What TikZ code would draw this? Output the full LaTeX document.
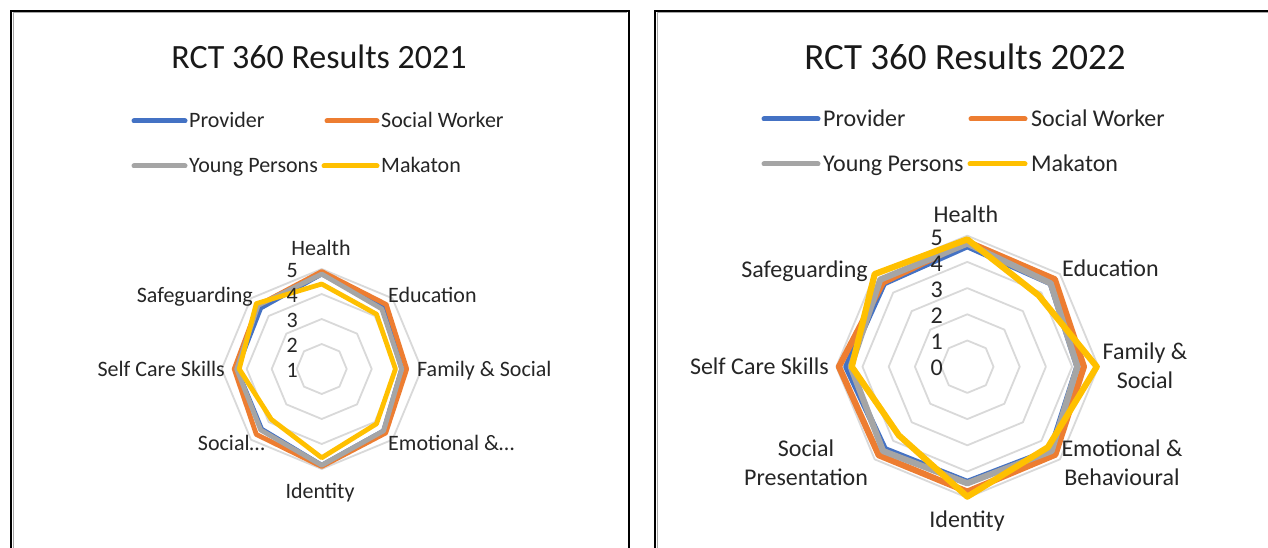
\documentclass[tikz,border=0pt]{standalone}
\usepackage{fontspec}
\setmainfont{Carlito}
\definecolor{cprov}{HTML}{4472C4}
\definecolor{csw}{HTML}{ED7D31}
\definecolor{cyp}{HTML}{A5A5A5}
\definecolor{cmak}{HTML}{FFC000}
\definecolor{cgrid}{HTML}{D9D9D9}
\newcommand\radarpoly[9]{\draw[#1] (90:#2) -- (45:#3) -- (0:#4) -- (-45:#5) -- (-90:#6) -- (-135:#7) -- (180:#8) -- (135:#9) -- cycle;}
\begin{document}
\begin{tikzpicture}[x=1pt,y=-1pt,
  frame/.style={line width=2.4pt,black},
  gridl/.style={cgrid,line width=1.8pt,line join=round},
  serL/.style={line width=4.8pt,line join=round},
  serR/.style={line width=6.2pt,line join=round},
  legline/.style={line width=5pt,line cap=round},
  titleL/.style={font=\fontsize{34}{40}\selectfont,text height=27.9pt,text depth=6.1pt,inner sep=0pt,text=black!90},
  titleR/.style={font=\fontsize{37}{44}\selectfont,text height=30.3pt,text depth=6.7pt,inner sep=0pt,text=black!90},
  labL/.style={font=\fontsize{22}{26}\selectfont,text height=18pt,text depth=4pt,inner sep=0pt,text=black!85},
  labR/.style={font=\fontsize{24}{28.5}\selectfont,inner sep=0pt,text=black!85},
  labRs/.style={labR,text height=19.7pt,text depth=4.3pt}
]
\useasboundingbox (0,0) rectangle (1268,548);
\fill[white] (0,0) rectangle (1268,548);
% frames
\draw[frame] (11,548) -- (11,11) -- (629,11) -- (629,548);
\draw[gray!70,line width=0.8pt] (12.9,548) -- (12.9,12.9) -- (627.1,12.9);
\draw[frame] (655,548) -- (655,11) -- (1268,11);
\draw[gray!70,line width=0.8pt] (656.9,548) -- (656.9,12.9) -- (1268,12.9);

% ===== Left chart =====
\node[titleL] (tL) at (319,57.5) {RCT 360 Results 2021};
\draw[legline,cprov] (134,121) -- (185,121);
\node[labL,anchor=west] (lgL1) at (189,120.5) {Provider};
\draw[legline,csw] (327,121) -- (377,121);
\node[labL,anchor=west] (lgL2) at (381,120.5) {Social Worker};
\draw[legline,cyp] (134,166) -- (185,166);
\node[labL,anchor=west] (lgL3) at (189,165.5) {Young Persons};
\draw[legline,cmak] (324,166) -- (377,166);
\node[labL,anchor=west] (lgL4) at (381,165.5) {Makaton};

\begin{scope}[shift={(321.7,369)},x=25pt,y=25pt]
  \foreach \r in {1,2,3,4}{\radarpoly{gridl}{\r}{\r}{\r}{\r}{\r}{\r}{\r}{\r}}
  \radarpoly{serL,cprov}{3.8}{3.5}{3.2}{3.5}{3.85}{3.4}{3.4}{3.45}
  \radarpoly{serL,csw}{3.9}{3.65}{3.4}{3.62}{3.9}{3.7}{3.5}{3.6}
  \radarpoly{serL,cyp}{3.8}{3.4}{3.2}{3.5}{3.85}{3.45}{3.4}{3.6}
  \radarpoly{serL,cmak}{3.4}{3.1}{2.95}{3.1}{3.55}{2.85}{3.3}{3.7}
\end{scope}
\node[labL] (aL1) at (321,248) {Health};
\node[labL,anchor=west] (aL2) at (388,295) {Education};
\node[labL,anchor=west] (aL3) at (417,369) {Family \& Social};
\node[labL,anchor=west] (aL4) at (388,443) {Emotional \&…};
\node[labL] (aL5) at (320,491) {Identity};
\node[labL,anchor=east] (aL6) at (265,443) {Social…};
\node[labL,anchor=east] (aL7) at (225,369) {Self Care Skills};
\node[labL,anchor=east] (aL8) at (253,295) {Safeguarding};
\node[labL,anchor=east] (nL5) at (298,270) {5};
\node[labL,anchor=east] (nL4) at (298,295) {4};
\node[labL,anchor=east] (nL3) at (298,320) {3};
\node[labL,anchor=east] (nL2) at (298,345) {2};
\node[labL,anchor=east] (nL1) at (298,370) {1};

% ===== Right chart =====
\node[titleR] (tR) at (965,57.5) {RCT 360 Results 2022};
\draw[legline,cprov] (764,119) -- (818,119);
\node[labRs,anchor=west] (lgR1) at (823,119) {Provider};
\draw[legline,csw] (971,119) -- (1025,119);
\node[labRs,anchor=west] (lgR2) at (1031,119) {Social Worker};
\draw[legline,cyp] (764,164) -- (818,164);
\node[labRs,anchor=west] (lgR3) at (823,164) {Young Persons};
\draw[legline,cmak] (970,164) -- (1025,164);
\node[labRs,anchor=west] (lgR4) at (1031,164) {Makaton};

\begin{scope}[shift={(967.3,366.7)},x=26.2pt,y=26.2pt]
  \foreach \r in {1,2,3,4,5}{\radarpoly{gridl}{\r}{\r}{\r}{\r}{\r}{\r}{\r}{\r}}
  \radarpoly{serR,cprov}{4.6}{4.5}{4.2}{4.5}{4.4}{4.45}{4.62}{4.5}
  \radarpoly{serR,csw}{4.77}{4.72}{4.45}{4.75}{4.77}{4.78}{4.9}{4.55}
  \radarpoly{serR,cyp}{4.7}{4.5}{4.2}{4.55}{4.45}{4.55}{4.45}{4.7}
  \radarpoly{serR,cmak}{4.86}{3.85}{4.94}{4.35}{4.96}{3.7}{4.41}{5.0}
\end{scope}
\node[labRs] (aR1) at (966,215) {Health};
\node[labRs,anchor=west] (aR2) at (1062,269) {Education};
\node[labR,align=center] (aR3) at (1145,366) {Family \&\\Social};
\node[labR,align=center] (aR4) at (1122,463) {Emotional \&\\Behavioural};
\node[labRs] (aR5) at (967,520) {Identity};
\node[labR,align=center] (aR6) at (806,463) {Social\\Presentation};
\node[labRs,anchor=east] (aR7) at (829,367) {Self Care Skills};
\node[labRs,anchor=east] (aR8) at (868,270) {Safeguarding};
\node[labRs,anchor=east] (nR5) at (943,237.5) {5};
\node[labRs,anchor=east] (nR4) at (943,263.5) {4};
\node[labRs,anchor=east] (nR3) at (943,289.5) {3};
\node[labRs,anchor=east] (nR2) at (943,315.5) {2};
\node[labRs,anchor=east] (nR1) at (943,341.5) {1};
\node[labRs,anchor=east] (nR0) at (943,367.5) {0};
\end{tikzpicture}
\end{document}
